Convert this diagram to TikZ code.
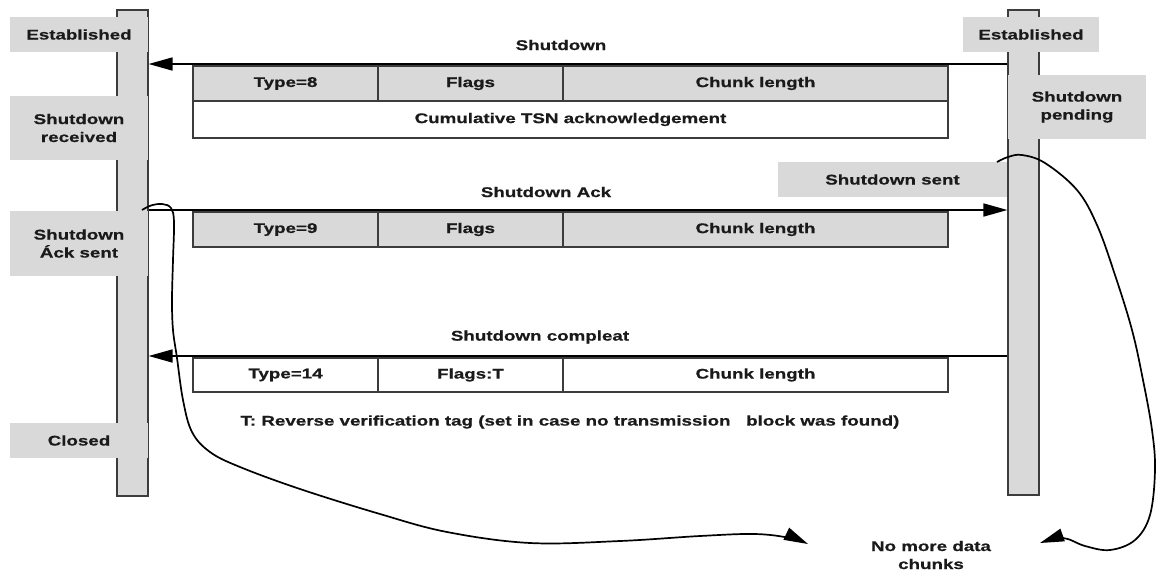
\documentclass[tikz,border=0pt]{standalone}
\usepackage{fontspec}
\setmainfont[FakeStretch=1.34, BoldFeatures={FakeBold=0.6}]{Liberation Sans}
\usetikzlibrary{arrows.meta}
\definecolor{boxgray}{HTML}{D9D9D9}
\definecolor{edgegray}{HTML}{3C3C3C}
\definecolor{ink}{HTML}{1A1A1A}
\begin{document}
\begin{tikzpicture}[x=1pt,y=-1pt,
  every node/.style={font=\bfseries\fontsize{14}{18}\selectfont, text=ink, inner sep=0pt},
  lifeline/.style={draw=edgegray, line width=1.2pt, fill=boxgray, rectangle},
  state/.style={fill=boxgray, rectangle, align=center},
  cell/.style={draw=edgegray, line width=1.2pt, rectangle},
  graycell/.style={cell, fill=boxgray},
  whitecell/.style={cell, fill=white},
  msg/.style={line width=1.7pt, -{Triangle[length=24pt,width=13pt]}},
  flow/.style={line width=1.7pt, -{Triangle[length=24pt,width=13pt]}},
  caption/.style={fill=none}]
\useasboundingbox (0,0) rectangle (1157,574);

% lifelines of the two endpoints
\node[lifeline, minimum width=31pt, minimum height=486pt] (lbar) at (132.5,253) {};
\node[lifeline, minimum width=31pt, minimum height=485pt] (rbar) at (1023.5,252.5) {};

% association states, left endpoint
\node[state, minimum width=138pt, minimum height=35pt] (estL) at (79,34.5) {Established};
\node[state, minimum width=138pt, minimum height=64pt] (rcvL) at (79,128) {Shutdown\\received};
\node[state, minimum width=138pt, minimum height=65pt] (ackL) at (79,243.5) {Shutdown\\Áck sent};
\node[state, minimum width=138pt, minimum height=35pt] (clsL) at (79,440.5) {Closed};

% association states, right endpoint
\node[state, minimum width=136pt, minimum height=35pt] (estR) at (1031,34.5) {Established};
\node[state, minimum width=138pt, minimum height=64pt] (pendR) at (1077,107) {Shutdown\\pending};
\node[state, minimum width=229pt, minimum height=35pt] (sentR) at (892.5,179.5) {Shutdown sent};

% SHUTDOWN chunk
\node[graycell, minimum width=185pt, minimum height=35pt] (s1) at (285.5,83.5) {Type=8};
\node[graycell, minimum width=185pt, minimum height=35pt] (s2) at (470.5,83.5) {Flags};
\node[graycell, minimum width=385pt, minimum height=35pt] (s3) at (755.5,83.5) {Chunk length};
\node[whitecell, minimum width=755pt, minimum height=37pt] (s4) at (570.5,119.5) {Cumulative TSN acknowledgement};

% SHUTDOWN ACK chunk
\node[graycell, minimum width=185pt, minimum height=35pt] (a1) at (285.5,229.5) {Type=9};
\node[graycell, minimum width=185pt, minimum height=35pt] (a2) at (470.5,229.5) {Flags};
\node[graycell, minimum width=385pt, minimum height=35pt] (a3) at (755.5,229.5) {Chunk length};

% SHUTDOWN COMPLETE chunk
\node[whitecell, minimum width=185pt, minimum height=34pt] (c1) at (285.5,375) {Type=14};
\node[whitecell, minimum width=185pt, minimum height=34pt] (c2) at (470.5,375) {Flags:T};
\node[whitecell, minimum width=385pt, minimum height=34pt] (c3) at (755.5,375) {Chunk length};

% message labels and notes
\node[caption] (lsd) at (561,45) {Shutdown};
\node[caption] (lack) at (546,192) {Shutdown Ack};
\node[caption] (lcmp) at (540,337) {Shutdown compleat};
\node[caption] (note) at (570,422) {T: Reverse verification tag (set in case no transmission\ \ \ block was found)};
\node[caption, align=center] (nomore) at (931,555) {No more data\\chunks};

% message arrows between the lifelines
\coordinate (sdR) at (rbar.west |- 0,64);
\coordinate (sdL) at (lbar.east |- 0,64);
\coordinate (ackA) at (lbar.east |- 0,210);
\coordinate (ackB) at (rbar.west |- 0,210);
\coordinate (cmpR) at (rbar.west |- 0,356);
\coordinate (cmpL) at (lbar.east |- 0,356);
\draw[msg] (sdR) -- (sdL);
\draw[msg] (ackA) -- (ackB);
\draw[msg] (cmpR) -- (cmpL);

% "no more data chunks" curves
\coordinate (lstart) at (142,210);
\coordinate (ltip) at (808,544);
\coordinate (rstart) at (997,162);
\coordinate (rtip) at (1040,543);
\draw[flow] plot[smooth, tension=0.6] coordinates {(lstart) (151,205.5) (162,204) (171,208) (174,222) (173,260) (172,300) (173,330) (177,358) (183,400) (192,432) (210,452) (240,467) (300,489) (380,514) (447,532) (530,543) (620,541) (700,536) (755,534) (790,538) (ltip)};
\draw[flow] plot[smooth, tension=0.6] coordinates {(rstart) (1008,157) (1022,155) (1045,163) (1077,190) (1097,225) (1115,275) (1132,330) (1143,380) (1152,430) (1155,470) (1150,515) (1135,540) (1110,550) (1085,546) (1063,538) (rtip)};
\end{tikzpicture}
\end{document}
